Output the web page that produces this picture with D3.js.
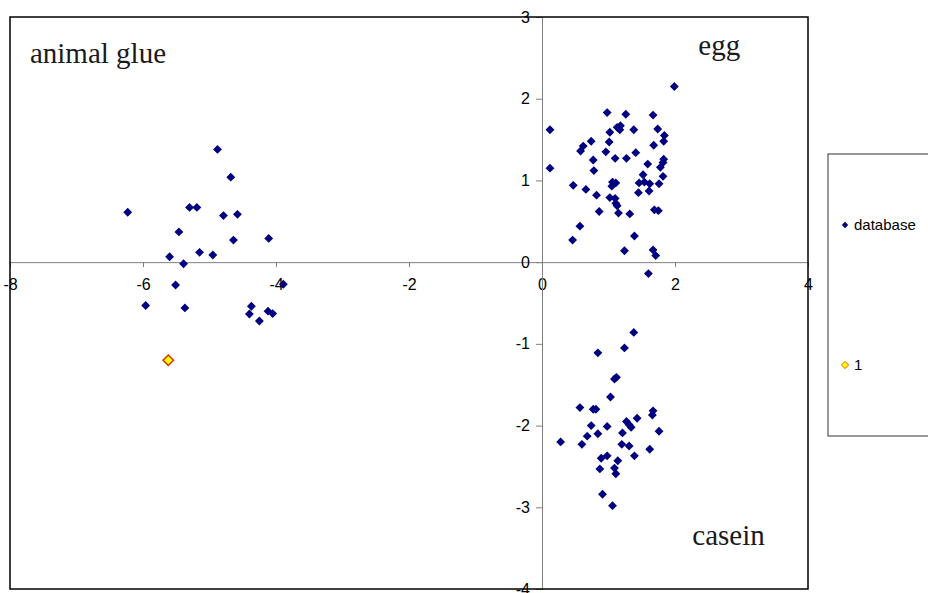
<!DOCTYPE html>
<html>
<head>
<meta charset="utf-8">
<script src="https://cdn.jsdelivr.net/npm/d3@7"></script>
<style>
  html, body { margin: 0; padding: 0; background: #fff; overflow: hidden; }
  svg { display: block; }
</style>
</head>
<body>
<svg id="chart" width="928" height="593"></svg>
<script>
// ---- data ----
const databaseX = [
  // animal glue
  -6.23, -4.88, -4.68, -5.30, -5.19, -4.79, -4.58, -5.46, -4.64, -4.11, -5.60, -5.15, -4.95, -5.39, -5.51, -5.96, -5.37, -4.37, -4.40, -4.25, -4.12, -4.05, -3.89,
  // egg
  1.99, 0.98, 1.26, 1.67, 0.12, 1.02, 1.13, 1.18, 1.17, 1.38, 1.74, 1.84, 1.83, 0.74, 1.01, 1.68, 0.62, 0.58, 0.96, 1.41,
  0.77, 1.10, 1.27, 1.83, 1.82, 1.59, 0.12, 0.78, 1.78, 1.52, 1.82, 0.47, 0.66, 0.82, 1.06, 1.11, 1.05, 1.46, 1.54, 1.62,
  1.76, 1.61, 1.45, 1.02, 1.10, 1.11, 1.13, 0.86, 1.15, 1.32, 1.69, 1.75, 0.57, 0.46, 1.39, 1.24, 1.67, 1.71, 1.60,
  // casein
  1.38, 0.84, 1.24, 1.09, 1.12, 1.03, 0.57, 0.77, 0.81, 1.67, 1.66, 1.43, 1.27, 1.31, 1.34, 0.74, 0.98, 0.68, 0.84, 1.21,
  1.76, 0.28, 0.60, 1.20, 1.31, 1.62, 1.39, 0.89, 0.98, 1.14, 0.87, 1.09, 1.11, 0.91, 1.06
];
const databaseY = [
  // animal glue
  0.61, 1.38, 1.04, 0.67, 0.67, 0.57, 0.585, 0.37, 0.27, 0.29, 0.066, 0.12, 0.087, -0.02, -0.28, -0.53, -0.56, -0.54, -0.635, -0.72, -0.60, -0.63, -0.27,
  // egg
  2.15, 1.83, 1.81, 1.80, 1.62, 1.59, 1.65, 1.67, 1.62, 1.62, 1.63, 1.55, 1.48, 1.48, 1.47, 1.43, 1.42, 1.36, 1.35, 1.34,
  1.25, 1.27, 1.27, 1.26, 1.22, 1.20, 1.15, 1.12, 1.16, 1.07, 1.05, 0.94, 0.89, 0.82, 0.98, 0.97, 0.93, 0.97, 0.98, 0.96,
  0.96, 0.87, 0.85, 0.79, 0.78, 0.72, 0.69, 0.62, 0.60, 0.59, 0.64, 0.63, 0.44, 0.27, 0.32, 0.14, 0.15, 0.08, -0.14,
  // casein
  -0.86, -1.11, -1.05, -1.43, -1.41, -1.65, -1.78, -1.80, -1.80, -1.82, -1.87, -1.91, -1.95, -1.99, -2.02, -2.00, -2.01, -2.13, -2.10, -2.09,
  -2.07, -2.20, -2.23, -2.23, -2.25, -2.29, -2.37, -2.40, -2.37, -2.43, -2.53, -2.52, -2.59, -2.84, -2.98
];
const sampleX = [-5.62];
const sampleY = [-1.20];

const xTicks = [-8, -6, -4, -2, 0, 2, 4];
const yTicks = [-4, -3, -2, -1, 0, 1, 2, 3];
const groupLabels = ["animal glue", "egg", "casein"];
const groupLabelX = [-7.70, 2.35, 2.26];
const groupLabelY = [2.44, 2.53, -3.46];
const seriesNames = ["database", "1"];

// ---- layout ----
const svg = d3.select("#chart");
const mLeft = 10, mRight = 808, mTop = 17, mBottom = 589;

const x = d3.scaleLinear().domain([-8, 4]).range([mLeft, mRight]);
const y = d3.scaleLinear().domain([-4, 3]).range([mBottom, mTop]);

// x axis at y=0
const xAxis = d3.axisBottom(x).tickValues(xTicks).tickSize(5).tickFormat(d3.format("d"));
const gx = svg.append("g").attr("transform", `translate(0,${y(0)})`).call(xAxis);
gx.select(".domain").attr("stroke", "#808080");
gx.selectAll(".tick line").attr("stroke", "#808080");
gx.selectAll(".tick text")
  .attr("font-family", "'Liberation Sans', Arial, sans-serif")
  .attr("font-size", 16).attr("fill", "#000").attr("dy", "1.25em")
  .text(d => d < 0 ? "-" + Math.abs(d) : d);

// y axis at x=0
const yAxis = d3.axisLeft(y).tickValues(yTicks).tickSize(6).tickFormat(d3.format("d"));
const gy = svg.append("g").attr("transform", `translate(${x(0)},0)`).call(yAxis);
gy.select(".domain").attr("stroke", "#808080");
gy.selectAll(".tick line").attr("stroke", "#808080");
gy.selectAll(".tick text")
  .attr("font-family", "'Liberation Sans', Arial, sans-serif")
  .attr("font-size", 16).attr("fill", "#000").attr("x", -12)
  .text(d => d < 0 ? "-" + Math.abs(d) : d);

// plot border
svg.append("rect")
  .attr("x", mLeft).attr("y", mTop)
  .attr("width", mRight - mLeft).attr("height", mBottom - mTop)
  .attr("fill", "none").attr("stroke", "#000").attr("stroke-width", 1.5);

// group labels
svg.append("g").selectAll("text").data(groupLabels).join("text")
  .attr("x", (d, i) => x(groupLabelX[i]))
  .attr("y", (d, i) => y(groupLabelY[i]))
  .attr("font-family", "'Liberation Serif', 'Times New Roman', serif")
  .attr("font-size", 29).attr("fill", "#1a1a1a")
  .text(d => d);

// markers
const diamond = d3.symbol().type(d3.symbolDiamond2);
svg.append("g").selectAll("path").data(databaseX.map((v, i) => [v, databaseY[i]])).join("path")
  .attr("transform", d => `translate(${x(d[0])},${y(d[1])})`)
  .attr("d", diamond.size(50)())
  .attr("fill", "#000080");

svg.append("g").selectAll("path").data(sampleX.map((v, i) => [v, sampleY[i]])).join("path")
  .attr("transform", d => `translate(${x(d[0])},${y(d[1])})`)
  .attr("d", diamond.size(70)())
  .attr("fill", "#ffff00").attr("stroke", "#e03000").attr("stroke-width", 1.5);

// legend
const lg = svg.append("g");
lg.append("rect").attr("x", 828).attr("y", 154).attr("width", 120).attr("height", 282)
  .attr("fill", "#fff").attr("stroke", "#333").attr("stroke-width", 1);
const legendY = [225, 365];
lg.append("path").attr("transform", `translate(845,${legendY[0]})`)
  .attr("d", diamond.size(26)()).attr("fill", "#000080");
lg.append("path").attr("transform", `translate(845,${legendY[1]})`)
  .attr("d", diamond.size(34)()).attr("fill", "#ffff00").attr("stroke", "#ff6000").attr("stroke-width", 1);
lg.selectAll("text").data(seriesNames).join("text")
  .attr("x", 854).attr("y", (d, i) => legendY[i])
  .attr("dy", "0.35em")
  .attr("font-family", "'Liberation Sans', Arial, sans-serif")
  .attr("font-size", 15).attr("fill", "#000")
  .text(d => d);
</script>
</body>
</html>
